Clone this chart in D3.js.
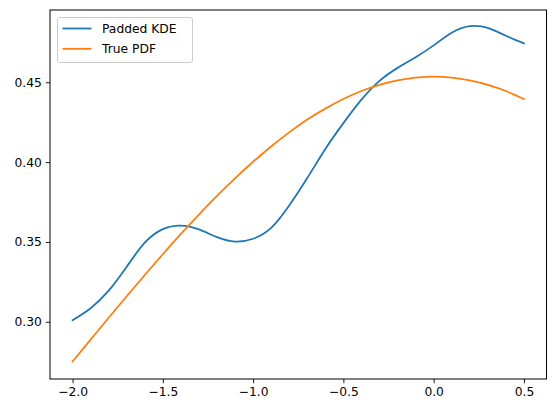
<!DOCTYPE html>
<html><head><meta charset="utf-8">
<script src="https://cdn.jsdelivr.net/npm/d3@7"></script>
<style>body{margin:0;background:#fff}svg{display:block}text{font-family:"DejaVu Sans",sans-serif}</style>
</head><body><svg id="c" width="556" height="413"></svg>
<script>
const xValues = [-2.0,-1.9,-1.8,-1.7,-1.6,-1.5,-1.4,-1.3,-1.2,-1.1,-1.0,-0.9,-0.8,-0.7,-0.6,-0.5,-0.4,-0.3,-0.2,-0.1,0.0,0.1,0.2,0.3,0.4,0.5];
const kdeValues = [0.3010,0.3085,0.3195,0.3345,0.3495,0.3580,0.3602,0.3578,0.3530,0.3502,0.3520,0.3588,0.3728,0.3900,0.4082,0.4244,0.4391,0.4509,0.4590,0.4657,0.4731,0.4810,0.4851,0.4841,0.4791,0.4744];
const pdfValues = [0.2751,0.2888,0.3025,0.3160,0.3293,0.3423,0.3550,0.3671,0.3788,0.3898,0.4002,0.4098,0.4186,0.4266,0.4335,0.4395,0.4445,0.4484,0.4512,0.4529,0.4535,0.4529,0.4512,0.4484,0.4445,0.4395];
const seriesNames = ["Padded KDE","True PDF"];
const xTicks = [-2.0,-1.5,-1.0,-0.5,0.0,0.5];
const yTicks = [0.30,0.35,0.40,0.45];

const svg = d3.select("#c");
const L=50, R=546.5, T=10, B=379;
const x = d3.scaleLinear().domain([-2.125,0.625]).range([L,R]);
const y = d3.scaleLinear().domain([0.26415,0.49525]).range([B,T]);
const colors = ["#1f77b4","#ff7f0e"];

const line = d3.line().x((d,i)=>x(xValues[i])).y(d=>y(d)).curve(d3.curveNatural);
[kdeValues,pdfValues].forEach((s,k)=>{
  svg.append("path").attr("d",line(s)).attr("fill","none").attr("stroke",colors[k]).attr("stroke-width",1.8).attr("stroke-linejoin","round").attr("stroke-linecap","square");
});

svg.append("rect").attr("x",L).attr("y",T).attr("width",R-L).attr("height",B-T).attr("fill","none").attr("stroke","#000").attr("stroke-width",1);

const xa = svg.append("g").attr("transform",`translate(0,${B})`).call(d3.axisBottom(x).tickValues(xTicks).tickFormat(d3.format(".1f")).tickSize(4.2).tickPadding(4));
const ya = svg.append("g").attr("transform",`translate(${L},0)`).call(d3.axisLeft(y).tickValues(yTicks).tickFormat(d3.format(".2f")).tickSize(4.2).tickPadding(4));
[xa,ya].forEach(a=>{
  a.select(".domain").remove();
  a.selectAll("line").attr("stroke","#000").attr("stroke-width",0.9);
  a.selectAll("text").attr("font-size",12.3).attr("fill","#000").attr("font-family","DejaVu Sans");
});
xa.selectAll("text").text(d=>d<0?"\u2212"+Math.abs(d).toFixed(1):d.toFixed(1));

const lg = svg.append("g");
lg.append("rect").attr("x",57.5).attr("y",17.5).attr("width",135).attr("height",45).attr("rx",2.5).attr("fill","#fff").attr("fill-opacity",0.8).attr("stroke","#cccccc").attr("stroke-width",1);
seriesNames.forEach((n,k)=>{
  const yy = 28.5 + k*20.3;
  lg.append("line").attr("x1",62.5).attr("x2",91.5).attr("y1",yy).attr("y2",yy).attr("stroke",colors[k]).attr("stroke-width",1.8);
  lg.append("text").attr("x",102).attr("y",yy).attr("dy","0.36em").attr("font-size",12.3).attr("fill","#000").text(n);
});
</script></body></html>
